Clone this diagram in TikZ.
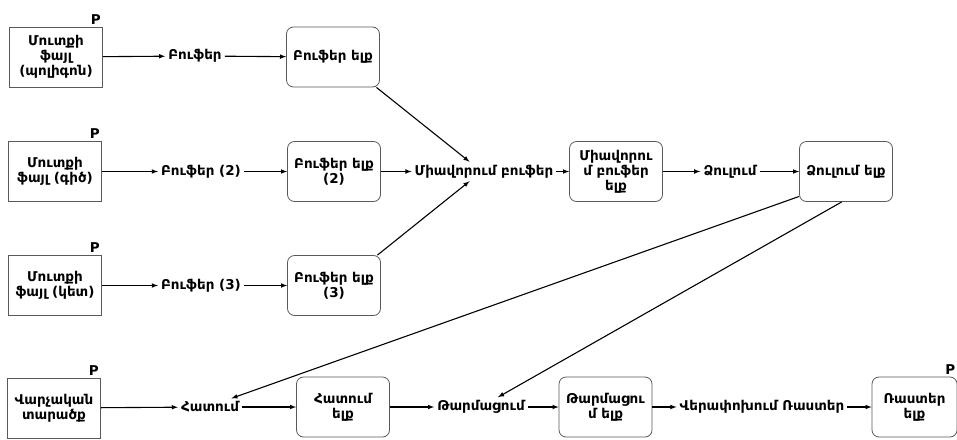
\documentclass[tikz,border=0pt]{standalone}
\usepackage{fontspec}
\setmainfont{DejaVu Sans}
\usetikzlibrary{positioning, calc}

\begin{document}
\begin{tikzpicture}[x=1pt, y=-1pt,
  every node/.style={anchor=center, align=center, inner sep=3pt, font=\bfseries\fontsize{13.5}{15}\selectfont},
  infile/.style={draw=black!65, line width=0.8pt, minimum width=93pt, minimum height=60pt},
  outbox/.style={infile, rounded corners=7pt},
  plabel/.style={anchor=south east, inner sep=2pt},
  flow/.style={draw, -latex, line width=1.1pt}]
  \useasboundingbox (0,0) rectangle (957,439);

  \node[infile] (in1) at (56,57) {Մուտքի\\ֆայլ\\(պոլիգոն)};
  \node (buf1) at (195,56) {Բուֆեր};
  \node[outbox] (bout1) at (333,57) {Բուֆեր ելք};

  \node[infile] (in2) at (55,171.5) {Մուտքի\\ֆայլ (գիծ)};
  \node (buf2) at (201,171.5) {Բուֆեր (2)};
  \node[outbox] (bout2) at (334,171.5) {Բուֆեր ելք\\(2)};

  \node[infile] (in3) at (55,285.5) {Մուտքի\\ֆայլ (կետ)};
  \node (buf3) at (201,285.5) {Բուֆեր (3)};
  \node[outbox] (bout3) at (334,285.5) {Բուֆեր ելք\\(3)};

  \node (union) at (484,171.5) {Միավորում բուֆեր};
  \node[outbox] (uout) at (616,171.5) {Միավորու\\մ բուֆեր\\ելք};
  \node (diss) at (730,171.5) {Ձուլում};
  \node[outbox] (dout) at (846,171.5) {Ձուլում ելք};

  \node[infile] (admin) at (54,408) {Վարչական\\տարածք};
  \node (clip) at (210,407) {Հատում};
  \node[outbox] (cout) at (343,407) {Հատում\\ելք};
  \node (upd) at (481,407) {Թարմացում};
  \node[outbox] (updout) at (605.5,407) {Թարմացու\\մ ելք};
  \node (torast) at (762,407) {Վերափոխում Ռաստեր};
  \node[outbox, minimum width=85pt] (rast) at (914.5,407) {Ռաստեր\\ելք};

  \node[plabel] at (in1.north east) {P};
  \node[plabel] at (in2.north east) {P};
  \node[plabel] at (in3.north east) {P};
  \node[plabel] at (admin.north east) {P};
  \node[plabel] at (rast.north east) {P};

  \coordinate (unionin) at ($(union.north west)!0.4!(union.north east)$);
  \coordinate (unionin3) at ($(union.south west)!0.4!(union.south east)$);

  \path[flow] (in1) -- (buf1);
  \path[flow] (buf1) -- (bout1);
  \path[flow] (in2) -- (buf2);
  \path[flow] (buf2) -- (bout2);
  \path[flow] (in3) -- (buf3);
  \path[flow] (buf3) -- (bout3);
  \path[flow] (bout1.-35) -- (unionin);
  \path[flow] (bout2) -- (union);
  \path[flow] (bout3.35) -- (unionin3);
  \path[flow] (union) -- (uout);
  \path[flow] (uout) -- (diss);
  \path[flow] (diss) -- (dout);
  \path[flow] (dout.208) -- (clip.22);
  \path[flow] (dout.262) -- (upd.30);
  \path[flow] (admin) -- (clip);
  \path[flow] (clip) -- (cout);
  \path[flow] (cout) -- (upd);
  \path[flow] (upd) -- (updout);
  \path[flow] (updout) -- (torast);
  \path[flow] (torast) -- (rast);
\end{tikzpicture}
\end{document}
